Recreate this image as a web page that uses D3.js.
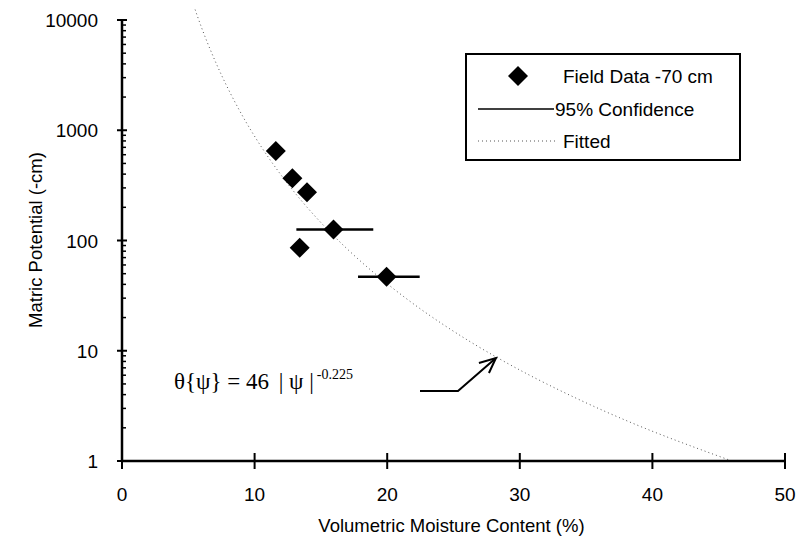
<!DOCTYPE html>
<html>
<head>
<meta charset="utf-8">
<script src="https://cdn.jsdelivr.net/npm/d3@7"></script>
<style>
  body { margin: 0; background: #fff; }
  text { font-family: "Liberation Sans", Arial, sans-serif; }
</style>
</head>
<body>
<div id="chart"></div>
<script>
// field data, -70 cm depth
const theta = [11.6, 12.85, 13.95, 15.95, 13.4, 19.95]
const psi = [649, 367, 274, 126, 86, 47]
// 95% confidence bars (only two points have them)
const ciPsi = [126, 47]
const ciLow = [13.15, 17.8]
const ciHigh = [18.95, 22.45]
// fitted curve: theta = 46 |psi|^-0.225
const fitPsi = [1, 2, 5, 10, 20, 50, 100, 200, 500, 1000, 2000, 5000, 10000, 13000]
const fitTheta = [46, 39.35, 32.03, 27.4, 23.44, 19.08, 16.32, 13.96, 11.36, 9.72, 8.32, 6.77, 5.79, 5.46]

const xTicks = [0, 10, 20, 30, 40, 50]
const yTicks = [1, 10, 100, 1000, 10000]

const width = 803
	, height = 550
	, mLeft = 122
	, mRight = 785
	, mTop = 20
	, mBottom = 461

const x = d3.scaleLinear().domain([0, 50]).range([mLeft, mRight])
const y = d3.scaleLog().domain([1, 10000]).range([mBottom, mTop])

const svg = d3.select('#chart').append('svg')
	.attr('width', width)
	.attr('height', height)

// fitted curve (dotted)
const fitLine = d3.line()
	.x(function(d, i) { return x(fitTheta[i]) })
	.y(function(d) { return y(d) })
	.curve(d3.curveMonotoneY)

svg.append('path')
	.datum(fitPsi)
	.attr('d', fitLine)
	.attr('fill', 'none')
	.attr('stroke', '#555')
	.attr('stroke-width', 1)
	.attr('stroke-dasharray', '1,3')

// y axis: minor ticks inside, majors crossing
const minor = []
yTicks.slice(0, -1).forEach(function(t) {
	for (let k = 2; k < 10; k++) minor.push(t * k)
})
svg.append('g').selectAll('line').data(minor).join('line')
	.attr('x1', mLeft).attr('x2', mLeft + 4)
	.attr('y1', d => y(d)).attr('y2', d => y(d))
	.attr('stroke', '#000').attr('stroke-width', 1.5)

svg.append('g').selectAll('line').data(yTicks).join('line')
	.attr('x1', mLeft - 5).attr('x2', mLeft + 5)
	.attr('y1', d => y(d)).attr('y2', d => y(d))
	.attr('stroke', '#000').attr('stroke-width', 2)

svg.append('g').selectAll('text').data(yTicks).join('text')
	.attr('x', mLeft - 24)
	.attr('y', d => y(d) + 7)
	.attr('text-anchor', 'end')
	.attr('font-size', 19)
	.text(d => d)

svg.append('line')
	.attr('x1', mLeft).attr('x2', mLeft)
	.attr('y1', mTop).attr('y2', mBottom)
	.attr('stroke', '#000').attr('stroke-width', 2.5)

// x axis
svg.append('line')
	.attr('x1', mLeft).attr('x2', mRight)
	.attr('y1', mBottom).attr('y2', mBottom)
	.attr('stroke', '#000').attr('stroke-width', 2.5)

svg.append('g').selectAll('line').data(xTicks).join('line')
	.attr('x1', d => x(d)).attr('x2', d => x(d))
	.attr('y1', mBottom - 8).attr('y2', mBottom + 8)
	.attr('stroke', '#000').attr('stroke-width', 2)

svg.append('g').selectAll('text').data(xTicks).join('text')
	.attr('x', d => x(d))
	.attr('y', mBottom + 40)
	.attr('text-anchor', 'middle')
	.attr('font-size', 19)
	.text(d => d)

// axis titles
svg.append('text')
	.attr('x', (mLeft + mRight) / 2 - 2)
	.attr('y', 532)
	.attr('text-anchor', 'middle')
	.attr('font-size', 18.5)
	.text('Volumetric Moisture Content (%)')

svg.append('text')
	.attr('transform', 'translate(42,' + 240 + ') rotate(-90)')
	.attr('text-anchor', 'middle')
	.attr('font-size', 18.5)
	.text('Matric Potential (-cm)')

// confidence bars
svg.append('g').selectAll('line').data(ciPsi).join('line')
	.attr('x1', (d, i) => x(ciLow[i]))
	.attr('x2', (d, i) => x(ciHigh[i]))
	.attr('y1', d => y(d)).attr('y2', d => y(d))
	.attr('stroke', '#000').attr('stroke-width', 2.5)

// diamonds
const diamond = d3.symbol().type(d3.symbolSquare).size(200)
svg.append('g').selectAll('path').data(psi).join('path')
	.attr('d', diamond)
	.attr('transform', (d, i) => 'translate(' + x(theta[i]) + ',' + y(d) + ') rotate(45)')
	.attr('fill', '#000')

// legend
const lg = svg.append('g')
lg.append('rect')
	.attr('x', 466).attr('y', 54)
	.attr('width', 274).attr('height', 106)
	.attr('fill', '#fff')
	.attr('stroke', '#000').attr('stroke-width', 2)
lg.append('path')
	.attr('d', diamond)
	.attr('transform', 'translate(518,76) rotate(45)')
	.attr('fill', '#000')
lg.append('line')
	.attr('x1', 478).attr('x2', 554)
	.attr('y1', 109).attr('y2', 109)
	.attr('stroke', '#000').attr('stroke-width', 1.5)
lg.append('line')
	.attr('x1', 478).attr('x2', 558)
	.attr('y1', 141).attr('y2', 141)
	.attr('stroke', '#555').attr('stroke-width', 1)
	.attr('stroke-dasharray', '1,3')
const legendText = ['Field Data -70 cm', '95% Confidence', 'Fitted']
const legendX = [563, 555, 563]
const legendY = [83, 116, 148]
lg.selectAll('text.lab').data(legendText).join('text')
	.attr('class', 'lab')
	.attr('x', (d, i) => legendX[i])
	.attr('y', (d, i) => legendY[i])
	.attr('font-size', 19)
	.text(d => d)

// equation annotation
const eq = svg.append('text')
	.attr('x', 174)
	.attr('y', 389)
	.style('font-family', '"Liberation Serif", "Times New Roman", serif')
	.attr('font-size', 23)
eq.append('tspan').text('θ{ψ} = 46 ')
eq.append('tspan').attr('dx', 4).text('| ψ |')
eq.append('tspan').attr('dy', -10).attr('dx', 3).attr('font-size', 14).text('-0.225')

// arrow pointing to the fitted curve
const tipTheta = 28.2, tipPsi = 8.6
const tx = x(tipTheta), ty = y(tipPsi)
svg.append('polyline')
	.attr('points', [[420, ty + 33], [458, ty + 33], [tx, ty]].map(p => p.join(',')).join(' '))
	.attr('fill', 'none')
	.attr('stroke', '#000').attr('stroke-width', 2)
svg.append('polyline')
	.attr('points', [[tx - 17, ty + 5], [tx, ty], [tx - 7, ty + 15]].map(p => p.join(',')).join(' '))
	.attr('fill', 'none')
	.attr('stroke', '#000').attr('stroke-width', 2)
</script>
</body>
</html>
